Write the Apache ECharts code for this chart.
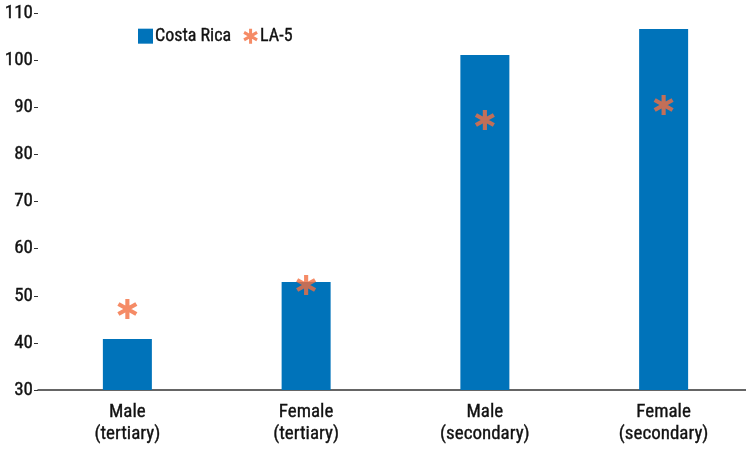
<!DOCTYPE html>
<html>
<head>
<meta charset="utf-8">
<script src="https://cdn.jsdelivr.net/npm/echarts@6/dist/echarts.min.js"></script>
<style>html,body{margin:0;padding:0;background:#fff}#c{width:746px;height:450px}</style>
</head>
<body>
<div id="c"></div>
<script>
const categories = ['Male\n(tertiary)', 'Female\n(tertiary)', 'Male\n(secondary)', 'Female\n(secondary)'];
const costaRica = [40.8, 52.9, 101.1, 106.6];
const la5 = [47.2, 52.3, 87.3, 90.5];
const yTicks = [30, 40, 50, 60, 70, 80, 90, 100, 110];

const FONT = '"Roboto Condensed", "Liberation Sans Narrow", Roboto, sans-serif';
const STAR = 'path://M-1.6,-8L1.6,-8L1.6,8L-1.6,8Z M-7.73,-2.61L-6.13,-5.39L7.73,2.61L6.13,5.39Z M6.13,-5.39L7.73,-2.61L-6.13,5.39L-7.73,2.61Z';
const TXT = '#111';
const txtStyle = {fontFamily: FONT, fontSize: 19, color: TXT, textBorderColor: TXT, textBorderWidth: 0.35};

const chart = echarts.init(document.getElementById('c'), null, {renderer: 'canvas'});
chart.setOption({
  animation: false,
  backgroundColor: '#fff',
  textStyle: {fontFamily: FONT},
  legend: {
    left: 133, top: 22,
    itemWidth: 15, itemHeight: 15, itemGap: 12,
    textStyle: Object.assign({}, txtStyle, {fontSize: 18, padding: [0, 0, 0, -3]}),
    data: [
      {name: 'Costa Rica', icon: 'rect'},
      {name: 'LA-5', icon: STAR}
    ]
  },
  grid: {left: 38, right: -7, top: 13, bottom: 60, outerBoundsMode: 'none'},
  xAxis: {
    type: 'category',
    data: categories,
    axisLine: {lineStyle: {color: '#333', width: 1.5}},
    axisTick: {show: false},
    axisLabel: Object.assign({lineHeight: 22, margin: 11, interval: 0}, txtStyle)
  },
  yAxis: {
    type: 'value',
    min: yTicks[0], max: yTicks[yTicks.length - 1], interval: 10,
    axisLine: {show: false},
    axisTick: {show: true, length: 4, lineStyle: {color: '#333'}},
    splitLine: {show: false},
    axisLabel: Object.assign({margin: 5}, txtStyle)
  },
  series: [
    {
      name: 'Costa Rica', type: 'bar', data: costaRica,
      barWidth: 49,
      itemStyle: {color: '#0073BA'}
    },
    {
      name: 'LA-5', type: 'scatter', data: la5,
      symbol: STAR, symbolSize: [20, 20],
      itemStyle: {color: '#F36E40'},
      z: 5
    }
  ]
});
</script>
</body>
</html>
